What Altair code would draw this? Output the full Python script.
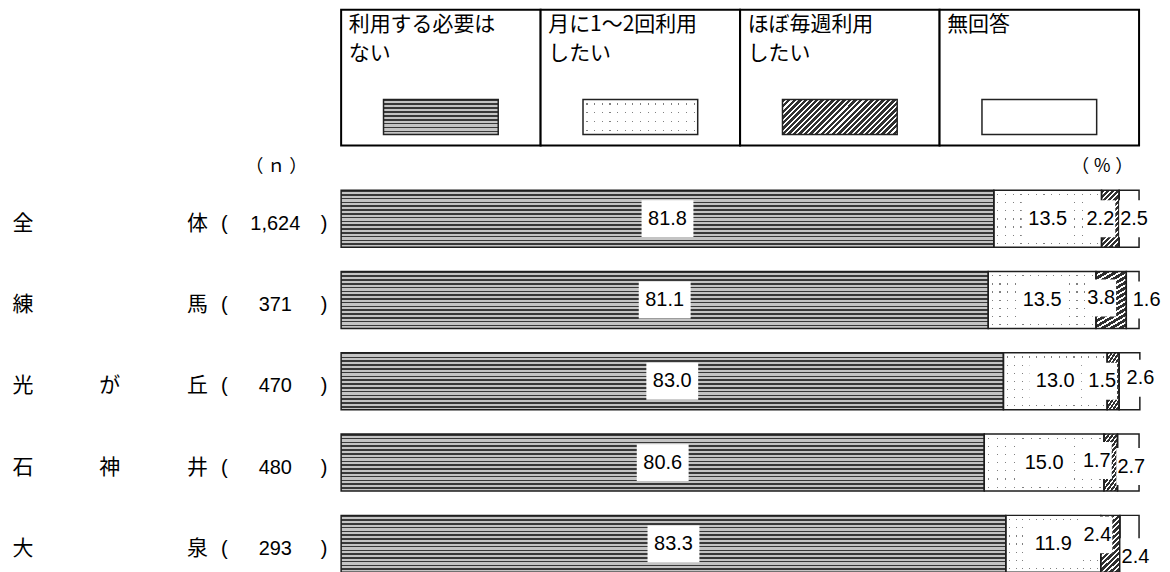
import altair as alt
import pandas as pd

# ---------------- data ----------------
region_first = ["全", "練", "光", "石", "大"]
region_mid = ["", "", "が", "神", ""]
region_last = ["体", "馬", "丘", "井", "泉"]
sample_n = ["1,624", "371", "470", "480", "293"]

categories = ["利用する必要はない", "月に1〜2回利用したい", "ほぼ毎週利用したい", "無回答"]
legend_line1 = ["利用する必要は", "月に1〜2回利用", "ほぼ毎週利用", "無回答"]
legend_line2 = ["ない", "したい", "したい", ""]

not_needed = [81.8, 81.1, 83.0, 80.6, 83.3]
monthly = [13.5, 13.5, 13.0, 15.0, 11.9]
weekly = [2.2, 3.8, 1.5, 1.7, 2.4]
no_answer = [2.5, 1.6, 2.6, 2.7, 2.4]

# label nudges (pixels) for the two narrow segments, as placed in the original
weekly_nudge_x = [-10, -10, -11, -14, -13]
weekly_nudge_y = [0, -2, 0, -2, -9]
noans_nudge_x = [5, 14, 11, 3, 6]
noans_nudge_y = [0, 0, -3, 4, 13]

# ---------------- layout constants ----------------
PX_PER_PCT = 8.0
ROW_PX = 81.5
HALF = 0.35
W = 1154
H_TOP = 180
H_BOT = 383
X_DOMAIN = [-41.75, -41.75 + W / PX_PER_PCT]
CJK = "Noto Sans CJK JP"
LAT = "Liberation Sans"

series = [not_needed, monthly, weekly, no_answer]
recs = []
for i in range(len(not_needed)):
    start = 0.0
    for k, s in enumerate(series):
        v = s[i]
        end = start + v
        center = (start + end) / 2
        nx, ny = 0, 0
        if k == 2:
            nx, ny = weekly_nudge_x[i], weekly_nudge_y[i]
        elif k == 3:
            nx, ny = noans_nudge_x[i], noans_nudge_y[i]
        label = f"{v:.1f}"
        recs.append(dict(row=i, cat=k, start=start, end=end, label=label,
                         lx=center + nx / PX_PER_PCT, ly=i + ny / ROW_PX,
                         y0=i - HALF, y1=i + HALF, wide=len(label) >= 4))
        start = end
df = pd.DataFrame(recs)

df_rows = pd.DataFrame(dict(row=list(range(5)), first=region_first, mid=region_mid,
                            last=region_last, n=sample_n))

df_leg = pd.DataFrame(dict(k=list(range(4)), cat=categories, line1=legend_line1, line2=legend_line2))
df_leg["x0"] = df_leg["k"] * 25.0
df_leg["x1"] = df_leg["x0"] + 25.0
df_leg["cx"] = df_leg["x0"] + 12.5
df_leg["sx0"] = df_leg["cx"] - 7.1875
df_leg["sx1"] = df_leg["cx"] + 7.1875
df_leg["tx"] = df_leg["x0"] + 0.95


# ---------------- pattern fills (hard-stop gradients) ----------------
def band_stops(n, bg, fg, p0, p1):
    s = []
    for k in range(n):
        a = round(k / n, 5)
        b = round((k + p0) / n, 5)
        c = round((k + p1) / n, 5)
        s += [{"offset": a, "color": bg}, {"offset": b, "color": bg},
              {"offset": b, "color": fg}, {"offset": c, "color": fg},
              {"offset": c, "color": bg}]
    s.append({"offset": 1, "color": bg})
    return s


def grad(stops, x2, y2):
    return alt.LinearGradient(gradient="linear", stops=stops, x1=0, y1=0, x2=x2, y2=y2)


CLEAR = "rgba(255,255,255,0)"
hlines_bar = grad(band_stops(15, "#c4c4c4", "#383838", 0.0, 0.42), 0, 1)
hlines_leg = grad(band_stops(9, "#c4c4c4", "#383838", 0.0, 0.42), 0, 1)
hatch_bar = grad(band_stops(14, "#ffffff", "#303030", 0.0, 0.62), 0.378, 1.196)
hatch_leg = grad(band_stops(27, "#ffffff", "#303030", 0.0, 0.62), 1.1935, 0.3629)
dots_rows_bar = grad(band_stops(7, CLEAR, "#808080", 0.45, 0.6), 0, 1)
dots_cols_bar = grad(band_stops(14, "#ffffff", CLEAR, 0.45, 0.6), 1, 0)
dots_rows_leg = grad(band_stops(4, CLEAR, "#808080", 0.45, 0.6), 0, 1)
dots_cols_leg = grad(band_stops(15, "#ffffff", CLEAR, 0.45, 0.6), 1, 0)

xscale = alt.Scale(domain=X_DOMAIN, nice=False, zero=False)
yscale_bot = alt.Scale(domain=[-HALF, 4 + HALF], reverse=True, nice=False, zero=False)
yscale_top = alt.Scale(domain=[0, H_TOP], reverse=True, nice=False, zero=False)

# ---------------- bottom: stacked bars ----------------
base = alt.Chart(df)
enc = dict(
    x=alt.X("start:Q", scale=xscale, axis=None),
    x2="end:Q",
    y=alt.Y("y0:Q", scale=yscale_bot, axis=None),
    y2="y1:Q",
)


def seg(k, fill):
    return base.transform_filter(alt.datum.cat == k).mark_rect(fill=fill, strokeWidth=0).encode(**enc)


outline = base.mark_rect(fill="transparent", stroke="#1e1e1e", strokeWidth=1.5).encode(**enc)

WIDE_BOX = "M-1,-0.71L1,-0.71L1,0.71L-1,0.71Z"
NARROW_BOX = "M-0.81,-1L0.81,-1L0.81,1L-0.81,1Z"
lab_enc = dict(x=alt.X("lx:Q", scale=xscale, axis=None), y=alt.Y("ly:Q", scale=yscale_bot, axis=None))
box_wide = base.transform_filter(alt.datum.wide).mark_point(
    shape=WIDE_BOX, size=2704, filled=True, fill="white", strokeWidth=0, opacity=1).encode(**lab_enc)
box_narrow = base.transform_filter(~alt.datum.wide).mark_point(
    shape=NARROW_BOX, size=1369, filled=True, fill="white", strokeWidth=0, opacity=1).encode(**lab_enc)
labels = base.mark_text(font=LAT, fontSize=20, color="black", baseline="middle", align="center").encode(
    text="label:N", **lab_enc)

rbase = alt.Chart(df_rows)
ry = alt.Y("row:Q", scale=yscale_bot, axis=None)


def rtext(xv, field, font=CJK, size=21):
    return rbase.mark_text(font=font, fontSize=size, color="black", baseline="middle",
                           align="center", dy=5).encode(
        x=alt.X(datum=xv, type="quantitative", scale=xscale, axis=None), y=ry, text=f"{field}:N")


row_labels = [
    rtext(-39.875, "first"),
    rtext(-29.0, "mid"),
    rtext(-18.0, "last"),
    rbase.mark_text(font=LAT, fontSize=20, color="black", baseline="middle", align="center", dy=5).encode(
        x=alt.X(datum=-14.625, type="quantitative", scale=xscale, axis=None), y=ry, text=alt.value("(")),
    rtext(-8.25, "n", font=LAT, size=20),
    rbase.mark_text(font=LAT, fontSize=20, color="black", baseline="middle", align="center", dy=5).encode(
        x=alt.X(datum=-2.125, type="quantitative", scale=xscale, axis=None), y=ry, text=alt.value(")")),
]

bottom = alt.layer(
    seg(0, hlines_bar),
    seg(1, "white"),
    seg(1, dots_rows_bar),
    seg(1, dots_cols_bar),
    seg(2, hatch_bar),
    seg(3, "white"),
    outline,
    box_wide,
    box_narrow,
    labels,
    *row_labels,
).properties(width=W, height=H_BOT)

# ---------------- top: legend table ----------------
lbase = alt.Chart(df_leg)
cell_enc = dict(
    x=alt.X("x0:Q", scale=xscale, axis=None), x2="x1:Q",
    y=alt.Y(datum=0, type="quantitative", scale=yscale_top, axis=None), y2=alt.Y2(datum=136),
)
cells = lbase.mark_rect(fill="white", stroke="black", strokeWidth=2).encode(**cell_enc)

sw_enc = dict(
    x=alt.X("sx0:Q", scale=xscale, axis=None), x2="sx1:Q",
    y=alt.Y(datum=90, type="quantitative", scale=yscale_top, axis=None), y2=alt.Y2(datum=125),
)


def swatch(k, fill):
    return lbase.transform_filter(alt.datum.k == k).mark_rect(fill=fill, strokeWidth=0).encode(**sw_enc)


sw_outline = lbase.mark_rect(fill="transparent", stroke="#222222", strokeWidth=1.5).encode(**sw_enc)


def ltext(field, yv):
    return lbase.mark_text(font=CJK, fontSize=21, color="black", baseline="middle", align="left").encode(
        x=alt.X("tx:Q", scale=xscale, axis=None),
        y=alt.Y(datum=yv, type="quantitative", scale=yscale_top, axis=None),
        text=f"{field}:N")


def unit_text(txt, xv, yv):
    return alt.Chart(pd.DataFrame({"t": [txt]})).mark_text(
        font=CJK, fontSize=18, color="black", baseline="middle", align="center").encode(
        x=alt.X(datum=xv, type="quantitative", scale=xscale, axis=None),
        y=alt.Y(datum=yv, type="quantitative", scale=yscale_top, axis=None),
        text="t:N")


top = alt.layer(
    cells,
    swatch(0, hlines_leg),
    swatch(1, "white"),
    swatch(1, dots_rows_leg),
    swatch(1, dots_cols_leg),
    swatch(2, hatch_leg),
    swatch(3, "white"),
    sw_outline,
    ltext("line1", 15),
    ltext("line2", 44),
    unit_text("（ ｎ ）", -8.125, 158),
    unit_text("（ ％ ）", 95.375, 158),
).properties(width=W, height=H_TOP)

chart = alt.vconcat(top, bottom, spacing=0).properties(padding=0).configure_view(stroke=None)

chart.save("out.html", embed_options={"renderer": "svg", "actions": False})
